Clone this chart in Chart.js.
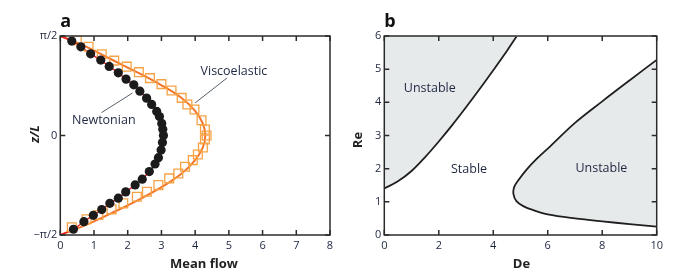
<!DOCTYPE html>
<html>
<head>
<meta charset="utf-8">
<script src="https://cdn.jsdelivr.net/npm/chart.js@4.4.0/dist/chart.umd.min.js"></script>
<style>
  html, body { margin: 0; padding: 0; background: #fff; }
  #wrap { position: relative; width: 693px; height: 279px; }
  #chart-a { position: absolute; left: 0; top: 0; }
  #chart-b { position: absolute; left: 345px; top: 0; }
</style>
</head>
<body>
<div id="wrap">
  <canvas id="chart-a" width="345" height="279"></canvas>
  <canvas id="chart-b" width="348" height="279"></canvas>
</div>
<script>
// Panel a: mean flow profiles across the gap, z/L in radians (-pi/2 .. pi/2)
const newtZ = [1.49, 1.40, 1.29, 1.19, 1.09, 0.99, 0.89, 0.80, 0.70, 0.59, 0.49, 0.38, 0.30, 0.19, 0.10, 0.0,
  -0.11, -0.23, -0.35, -0.45, -0.57, -0.69, -0.78, -0.89, -0.99, -1.07, -1.17, -1.26, -1.36, -1.48];
const newtFlow = [0.34, 0.61, 0.90, 1.20, 1.45, 1.72, 1.95, 2.18, 2.36, 2.56, 2.71, 2.86, 2.94, 3.01, 3.04, 3.06,
  3.03, 2.99, 2.91, 2.81, 2.64, 2.43, 2.22, 1.94, 1.72, 1.47, 1.23, 0.98, 0.70, 0.39];

const viscZ = [1.505, 1.402, 1.284, 1.182, 1.087, 1.000, 0.906, 0.811, 0.709, 0.594, 0.488, 0.410, 0.241, 0.095, 0.0,
  -0.063, -0.189, -0.299, -0.389, -0.493, -0.599, -0.677, -0.783, -0.887, -0.966, -1.071, -1.166, -1.256, -1.323, -1.449];
const viscFlow = [0.49, 0.84, 1.23, 1.60, 1.97, 2.33, 2.66, 3.00, 3.30, 3.60, 3.77, 3.98, 4.19, 4.29, 4.34,
  4.29, 4.23, 4.08, 3.93, 3.70, 3.50, 3.23, 2.91, 2.57, 2.27, 1.87, 1.52, 1.13, 0.78, 0.34];

// fitted curves
const newtFitZ = [Math.PI / 2, ...newtZ, -Math.PI / 2];
const newtFitFlow = [0, ...newtFlow, 0];
const viscFitZ = [Math.PI / 2, 1.4, 1.2, 1.0, 0.8, 0.6, 0.4, 0.2, 0, -0.2, -0.4, -0.6, -0.8, -1.0, -1.2, -1.4, -Math.PI / 2];
const viscFitFlow = [0, 0.78, 1.52, 2.27, 2.98, 3.58, 3.98, 4.22, 4.30, 4.22, 3.98, 3.60, 3.05, 2.38, 1.62, 0.82, 0];

const flowTicks = [0, 1, 2, 3, 4, 5, 6, 7, 8];
const zTicks = [-Math.PI / 2, 0, Math.PI / 2];
const zTickLabels = ["\u2212\u03c0/2", "0", "\u03c0/2"];

// Panel b: stability boundaries in the De-Re plane
const leftDe = [0, 0.5, 1.0, 1.5, 2.0, 2.5, 3.0, 3.5, 4.0, 4.5, 4.85];
const leftRe = [1.40, 1.62, 1.93, 2.35, 2.82, 3.32, 3.85, 4.40, 4.97, 5.55, 5.98];
const rightDe = [10, 9, 8, 7, 6, 5.5, 5.1, 4.85, 4.74, 4.77, 4.92, 5.2, 5.6, 6.1, 7.0, 8.0, 9.0, 10];
const rightRe = [0.25, 0.33, 0.41, 0.50, 0.62, 0.74, 0.87, 1.02, 1.24, 1.45, 1.65, 1.95, 2.30, 2.68, 3.38, 4.03, 4.66, 5.28];

const deTicks = [0, 2, 4, 6, 8, 10];
const reTicks = [0, 1, 2, 3, 4, 5, 6];

const FONT = '"Open Sans", sans-serif';
const TEXT = "#1e2640";
const pts = (xs, ys) => xs.map((x, i) => ({ x, y: ys[i] }));

// frame, inward ticks, panel letter, axis titles and in-plot labels
const decorPlugin = {
  id: "decor",
  afterDatasetsDraw(chart, args, o) {
    const { ctx, chartArea: a } = chart;
    const xs = chart.scales.x, ys = chart.scales.y;
    ctx.save();
    ctx.strokeStyle = "#2b2b2b";
    ctx.lineWidth = 1.5;
    ctx.strokeRect(a.left, a.top, a.right - a.left, a.bottom - a.top);
    ctx.beginPath();
    o.xTicks.forEach((v) => {
      const p = xs.getPixelForValue(v);
      ctx.moveTo(p, a.top); ctx.lineTo(p, a.top + 5);
      ctx.moveTo(p, a.bottom); ctx.lineTo(p, a.bottom - 5);
    });
    o.yTicks.forEach((v) => {
      const p = ys.getPixelForValue(v);
      ctx.moveTo(a.left, p); ctx.lineTo(a.left + 5, p);
      ctx.moveTo(a.right, p); ctx.lineTo(a.right - 5, p);
    });
    ctx.stroke();

    ctx.fillStyle = "#111";
    ctx.font = "bold 18px " + FONT;
    ctx.textAlign = "left";
    ctx.textBaseline = "alphabetic";
    ctx.fillText(o.letter, a.left, 27);

    // axis titles
    ctx.fillStyle = "#222";
    ctx.textAlign = "center";
    ctx.textBaseline = "middle";
    ctx.font = "bold 13px " + FONT;
    ctx.fillText(o.xTitle, o.xTitleAt[0], o.xTitleAt[1]);
    ctx.save();
    ctx.translate(o.yTitleAt[0], o.yTitleAt[1]);
    ctx.rotate(-Math.PI / 2);
    ctx.font = (o.yItalic ? "italic " : "") + "bold 13px " + FONT;
    ctx.fillText(o.yTitle, 0, 0);
    ctx.restore();

    ctx.font = "12.5px " + FONT;
    ctx.fillStyle = TEXT;
    o.notes.forEach((n) => {
      ctx.fillText(n.text, xs.getPixelForValue(n.x), ys.getPixelForValue(n.y));
      if (n.lead) {
        ctx.strokeStyle = "#55606a";
        ctx.lineWidth = 1;
        ctx.beginPath();
        ctx.moveTo(xs.getPixelForValue(n.lead[0]), ys.getPixelForValue(n.lead[1]));
        ctx.lineTo(xs.getPixelForValue(n.lead[2]), ys.getPixelForValue(n.lead[3]));
        ctx.stroke();
      }
    });
    ctx.restore();
  },
};

function axis(min, max, tickVals, labels, tickPad, fitFn) {
  return {
    type: "linear",
    min, max,
    afterBuildTicks: (s) => { s.ticks = tickVals.map((v) => ({ value: v })); },
    afterFit: fitFn,
    grid: { display: false, drawTicks: false },
    border: { display: false },
    ticks: {
      color: TEXT,
      font: { family: FONT, size: 11 },
      padding: tickPad,
      callback: (v, i) => (labels ? labels[i] : v),
    },
  };
}

new Chart(document.getElementById("chart-a"), {
  type: "scatter",
  data: {
    datasets: [
      {
        label: "Newtonian",
        data: pts(newtFlow, newtZ),
        pointRadius: 4.6,
        pointBackgroundColor: "#1b1b1b",
        pointBorderWidth: 0,
      },
      {
        label: "Viscoelastic",
        data: pts(viscFlow, viscZ),
        pointStyle: "rect",
        pointRadius: 6.2,
        pointBackgroundColor: "rgba(0,0,0,0)",
        pointBorderColor: "#f7a345",
        pointBorderWidth: 1.3,
      },
      {
        label: "Newtonian fit",
        type: "line",
        data: pts(newtFitFlow, newtFitZ),
        borderColor: "#e5232b",
        borderWidth: 1.5,
        pointRadius: 0,
        tension: 0.3,
      },
      {
        label: "Viscoelastic fit",
        type: "line",
        data: pts(viscFitFlow, viscFitZ),
        borderColor: "#f2752a",
        borderWidth: 2,
        pointRadius: 0,
        tension: 0.4,
      },
    ],
  },
  options: {
    responsive: false,
    animation: false,
    layout: { padding: { top: 36, right: 15, left: 0, bottom: 0 } },
    scales: {
      x: axis(0, 8, flowTicks, null, 4, (s) => { s.height = 44; }),
      y: axis(-Math.PI / 2, Math.PI / 2, zTicks, zTickLabels, 3, (s) => { s.width = 60.3; }),
    },
    plugins: {
      legend: { display: false },
      tooltip: { enabled: false },
      decor: {
        letter: "a",
        xTicks: flowTicks,
        yTicks: zTicks,
        xTitle: "Mean flow", xTitleAt: [204, 264],
        yTitle: "z/L", yTitleAt: [35, 134], yItalic: true,
        notes: [
          { text: "Newtonian", x: 1.29, y: 0.23, lead: [1.22, 0.36, 2.14, 0.67] },
          { text: "Viscoelastic", x: 5.15, y: 1.01, lead: [4.95, 0.91, 4.0, 0.515] },
        ],
      },
    },
  },
  plugins: [decorPlugin],
});

new Chart(document.getElementById("chart-b"), {
  type: "scatter",
  data: {
    datasets: [
      {
        label: "Upper boundary",
        type: "line",
        data: pts(leftDe, leftRe),
        borderColor: "#1f1f1f",
        borderWidth: 1.8,
        backgroundColor: "#e7eaeb",
        fill: "end",
        pointRadius: 0,
        tension: 0.35,
      },
      {
        label: "Lower boundary",
        type: "line",
        data: pts(rightDe, rightRe),
        borderColor: "#1f1f1f",
        borderWidth: 1.8,
        backgroundColor: "#e7eaeb",
        fill: "shape",
        pointRadius: 0,
        tension: 0.35,
      },
    ],
  },
  options: {
    responsive: false,
    animation: false,
    layout: { padding: { top: 36, right: 36.3, left: 0, bottom: 0 } },
    scales: {
      x: axis(0, 10, deTicks, null, 4, (s) => { s.height = 44; }),
      y: axis(0, 6, reTicks, null, 3, (s) => { s.width = 39.3; }),
    },
    plugins: {
      legend: { display: false },
      tooltip: { enabled: false },
      decor: {
        letter: "b",
        xTicks: deTicks,
        yTicks: reTicks,
        xTitle: "De", xTitleAt: [176.5, 264],
        yTitle: "Re", yTitleAt: [13, 140], yItalic: false,
        notes: [
          { text: "Unstable", x: 1.67, y: 4.41 },
          { text: "Stable", x: 3.11, y: 1.99 },
          { text: "Unstable", x: 7.97, y: 2.01 },
        ],
      },
    },
  },
  plugins: [decorPlugin],
});
</script>
</body>
</html>
